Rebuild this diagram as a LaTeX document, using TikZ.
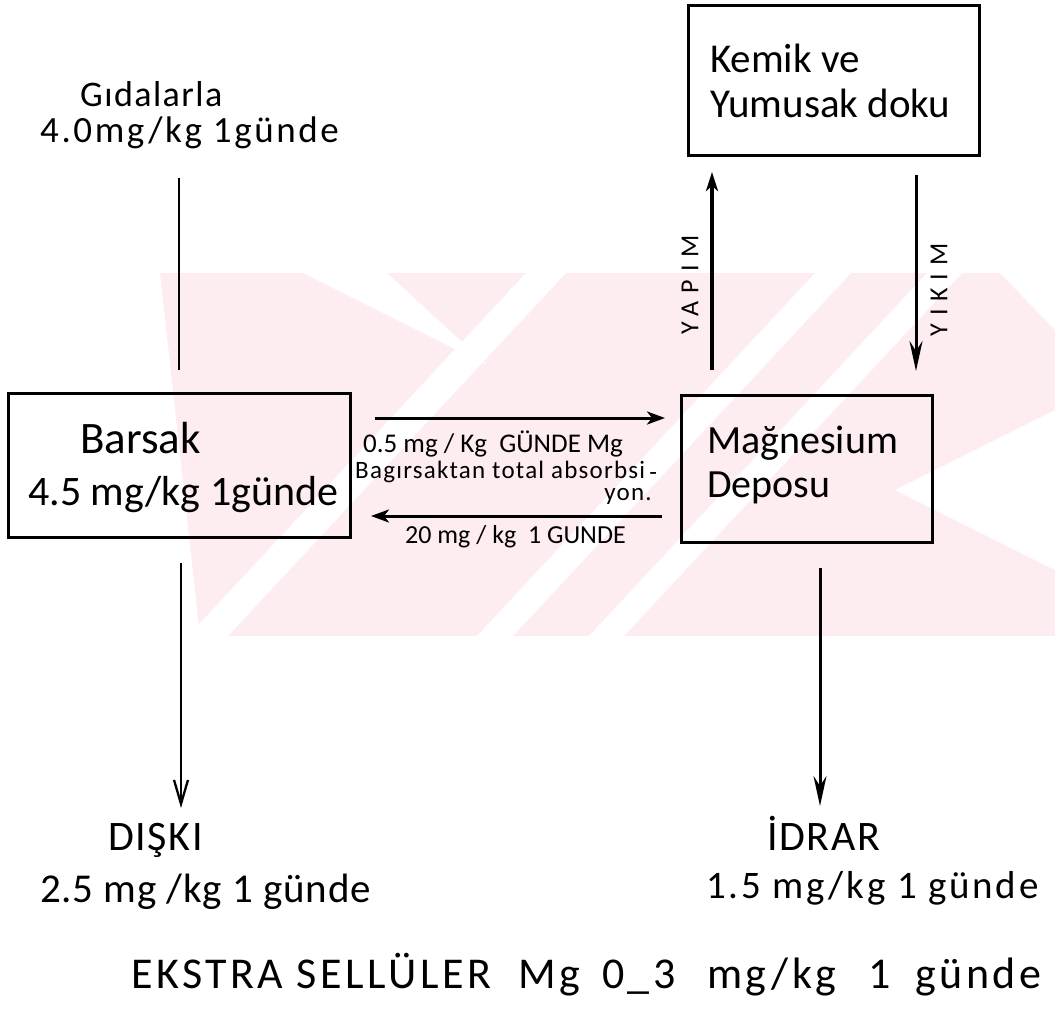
\documentclass[tikz,border=0pt]{standalone}
\usepackage{fontspec}
\setmainfont{Carlito}
\usetikzlibrary{arrows.meta}
\definecolor{wm}{RGB}{253,236,240}
\newcommand\fsz[1]{\fontsize{#1}{#1}\selectfont}
\newcommand\lsp[1]{\addfontfeature{LetterSpace=#1}}
\tikzset{
  box/.style={draw, line width=3pt, inner sep=0pt},
  txt/.style={inner sep=0pt, anchor=base west},
  txtr/.style={inner sep=0pt, anchor=base east},
  vlab/.style={inner sep=0pt, rotate=90, font=\fsz{26}\lsp{30}},
  plain/.style={line width=2.2pt},
  harrow/.style={line width=3pt, -{Stealth[length=18pt,width=13pt,inset=5pt]}},
  uparrow/.style={line width=3.2pt, -{Stealth[length=19pt,width=12pt,inset=5pt]}},
  longarrow/.style={line width=3pt, -{Stealth[length=30pt,width=13pt,inset=10pt]}},
  thinarrow/.style={line width=2.3pt, -{Straight Barb[length=24pt,width=14pt]}}
}
\begin{document}
\begin{tikzpicture}[x=1pt,y=-1pt]
\useasboundingbox (0,0) rectangle (1055,1015);
% watermark
\fill[wm] (160,273) -- (1055,273) -- (1055,636) -- (200,636) -- cycle;
\fill[white] (303,273) -- (387,273) -- (487,365) -- cycle;
\fill[white] (526,273) -- (566,273) -- (228,636) -- (188,636) -- cycle;
\fill[white] (815,273) -- (851,273) -- (513,636) -- (477,636) -- cycle;
\fill[white] (927,273) -- (962,273) -- (624,636) -- (589,636) -- cycle;
\fill[white] (1000,273) -- (1055,273) -- (1055,330) -- cycle;
\fill[white] (895,490) -- (1055,410) -- (1055,570) -- cycle;

% boxes
\node[box, minimum width=291pt, minimum height=150pt] (kemik) at (833.5,80) {};
\node[box, minimum width=342pt, minimum height=144pt] (barsak) at (179,465) {};
\node[box, minimum width=251pt, minimum height=147pt] (depo) at (806.5,468.5) {};

% texts
\node[txt, font=\fsz{36}\lsp{4}] (gida1) at (80,106) {Gıdalarla};
\node[txt, font=\fsz{37}\lsp{7}] (gida2) at (40,142) {4.0mg/kg 1günde};
\node[txt, font=\fsz{41}] (kemik1) at (710,72) {Kemik ve};
\node[txt, font=\fsz{41}] (kemik2) at (710,117) {Yumusak doku};
\node[txt, font=\fsz{45}] (barsak1) at (80,453) {Barsak};
\node[txt, font=\fsz{42}] (barsak2) at (28,505) {4.5 mg/kg 1günde};
\node[txt, font=\fsz{40}] (depo1) at (707,453) {Mağnesium};
\node[txt, font=\fsz{40}] (depo2) at (707,497) {Deposu};
\node[txt, font=\fsz{27}] (lab1) at (363,452) {0.5 mg / Kg\ \ GÜNDE Mg};
\node[txt, font=\fsz{25}\lsp{5}] (lab2) at (355,478) {Bagırsaktan total absorbsi\,\raisebox{-0.1em}{-}};
\node[txtr, font=\fsz{25}\lsp{5}] (lab3) at (652,500) {yon.};
\node[txt, font=\fsz{26}] (lab4) at (405,543) {20 mg / kg\ \ 1 GUNDE};
\node[vlab] (yapim) at (690,285) {YAPIM};
\node[vlab] (yikim) at (939,290) {YIKIM};
\node[txt, font=\fsz{42}\lsp{4}] (diski1) at (108,850) {DIŞKI};
\node[txt, font=\fsz{41}\lsp{2}] (diski2) at (40,902) {2.5 mg /kg 1 günde};
\node[txt, font=\fsz{42}\lsp{4}] (idrar1) at (767,850) {İDRAR};
\node[txt, font=\fsz{39}\lsp{7}] (idrar2) at (706,898) {1.5 mg/kg 1 günde};
\node[txt, font=\fsz{44}\lsp{8}] (ekstra) at (131,988) {\makebox[387pt][l]{EKSTRA SELLÜLER}\makebox[84pt][l]{Mg}\makebox[105pt][l]{0\_3}\makebox[161pt][l]{mg/kg}\makebox[47pt][l]{1}günde};

% connector end points
\coordinate (gA) at (179,178);
\coordinate (gB) at (179,370);
\coordinate (dA) at (181,563);
\coordinate (dB) at (181,808);
\coordinate (iA) at (820,568);
\coordinate (iB) at (820,806);
\coordinate (yA) at (712,370);
\coordinate (yB) at (712,172);
\coordinate (kA) at (916,175);
\coordinate (kB) at (916,371);
\coordinate (rA) at (375,418);
\coordinate (rB) at (665,418);
\coordinate (lA) at (662,516);
\coordinate (lB) at (371,516);

% connectors
\draw[plain] (gA) -- (gB);
\draw[thinarrow] (dA) -- (dB);
\draw[longarrow] (iA) -- (iB);
\draw[uparrow] (yA) -- (yB);
\draw[longarrow] (kA) -- (kB);
\draw[harrow] (rA) -- (rB);
\draw[harrow] (lA) -- (lB);
\end{tikzpicture}
\end{document}
